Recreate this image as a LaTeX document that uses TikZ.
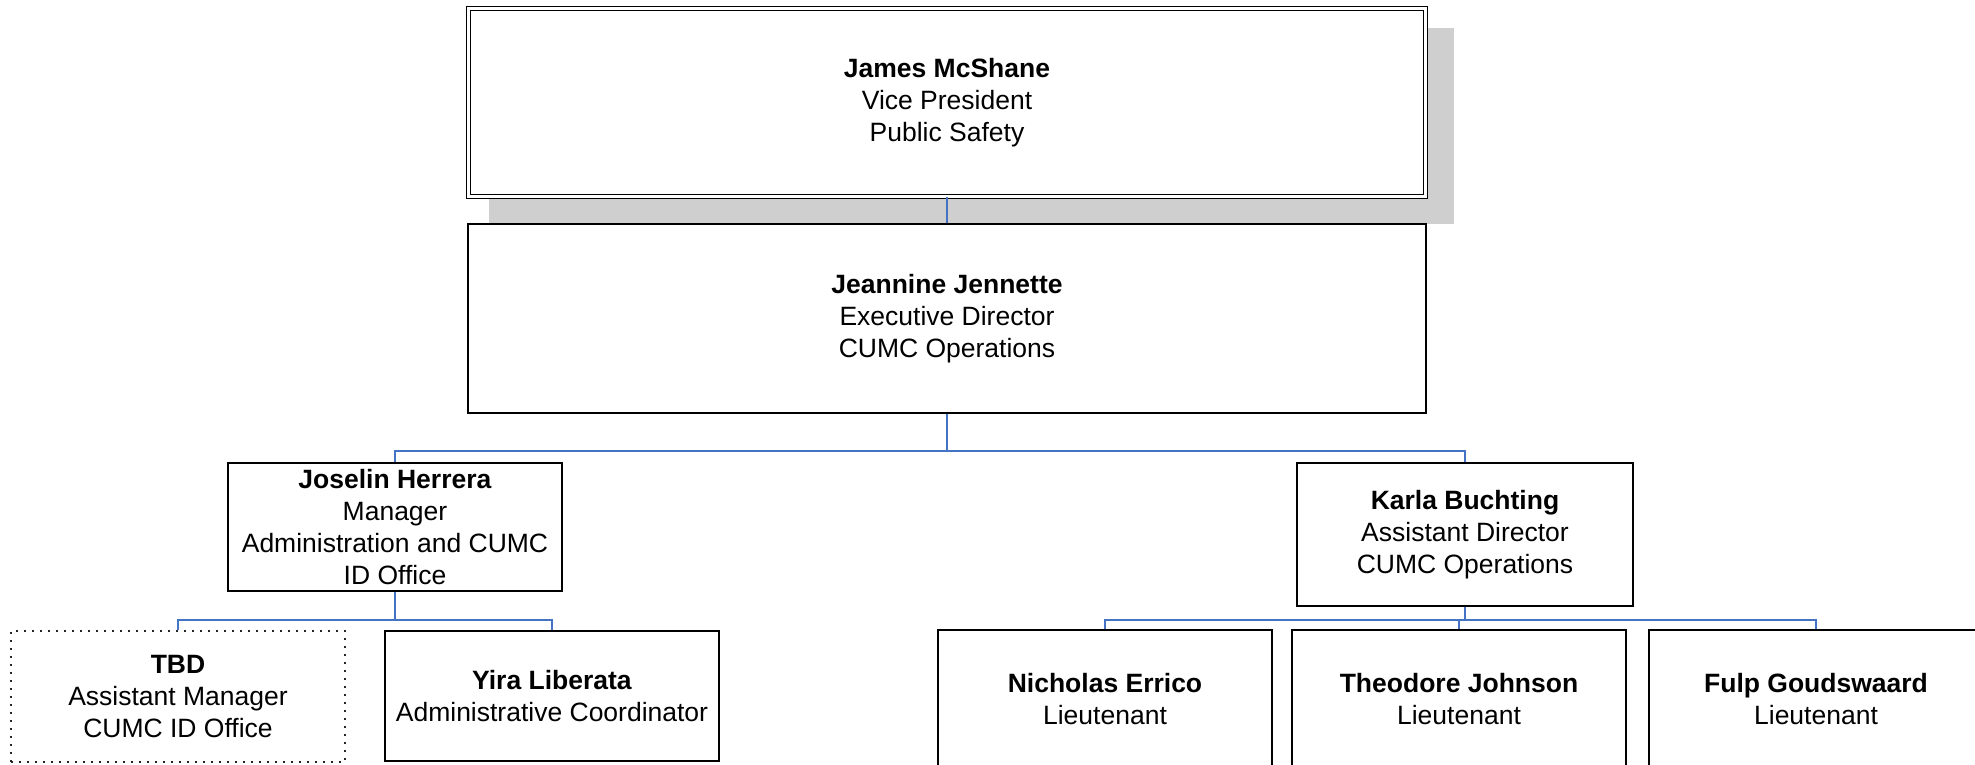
\documentclass[tikz,border=0pt]{standalone}
\usepackage{fontspec}
\setmainfont{Liberation Sans}
\usetikzlibrary{calc}
\definecolor{conn}{HTML}{4472C4}
\definecolor{shadowgray}{HTML}{CFCFCF}
\tikzset{
  orgbox/.style={draw=black, line width=2.2pt, fill=white, rectangle, inner sep=0pt,
    align=center, font=\fontsize{26.5}{32}\selectfont},
  vpbox/.style={orgbox, double=white, double distance=2.6pt, line width=1.6pt},
  tbdbox/.style={orgbox, line width=1.6pt, dash pattern=on 1.6pt off 6.4pt, draw=black!85},
  link/.style={draw=conn, line width=2pt}
}
\begin{document}
\begin{tikzpicture}[x=1pt,y=-1pt]
\useasboundingbox (0,0) rectangle (1975,764);
\clip (0,0) rectangle (1975,764);
% shadow of top box
\fill[shadowgray] (489,28) rectangle (1454,224);
% bus points
\coordinate (b1) at (947,451);
\coordinate (b2) at (395,620);
\coordinate (b3) at (1465,620);
% nodes
\node[vpbox, minimum width=957pt, minimum height=188pt] (vp) at (947,102.5)
  {\rule{0pt}{5pt}\textbf{James McShane}\\Vice President\\Public Safety};
\node[orgbox, minimum width=958pt, minimum height=189pt] (jj) at (947,318.5)
  {\rule{0pt}{5pt}\textbf{Jeannine Jennette}\\Executive Director\\CUMC Operations};
\node[orgbox, minimum width=334pt, minimum height=128pt] (jh) at (395,527)
  {\textbf{Joselin Herrera}\\Manager\\Administration and CUMC\\ID Office};
\node[orgbox, minimum width=336pt, minimum height=143pt] (kb) at (1465,534.5)
  {\textbf{Karla Buchting}\\Assistant Director\\CUMC Operations};
\node[tbdbox, minimum width=334pt, minimum height=131pt] (tbd) at (178,696.5)
  {\textbf{TBD}\\Assistant Manager\\CUMC ID Office};
\node[orgbox, minimum width=334pt, minimum height=130pt] (yl) at (552,696)
  {\textbf{Yira Liberata}\\Administrative Coordinator};
\node[orgbox, minimum width=334pt, minimum height=138pt] (ne) at (1105,699)
  {\textbf{Nicholas Errico}\\Lieutenant};
\node[orgbox, minimum width=334pt, minimum height=138pt] (te) at (1459,699)
  {\textbf{Theodore Johnson}\\Lieutenant};
\node[orgbox, minimum width=334pt, minimum height=138pt] (fg) at (1816,699)
  {\textbf{Fulp Goudswaard}\\Lieutenant};
% links
\draw[link] (vp.south) -- (jj.north);
\draw[link] (jj.south) -- (b1) -| (jh.north);
\draw[link] (b1) -| (kb.north);
\draw[link] (jh.south) -- (b2) -| (tbd.north);
\draw[link] (b2) -| (yl.north);
\draw[link] (kb.south) -- (b3) -| (ne.north);
\draw[link] (b3) -| (te.north);
\draw[link] (b3) -| (fg.north);
\end{tikzpicture}
\end{document}
